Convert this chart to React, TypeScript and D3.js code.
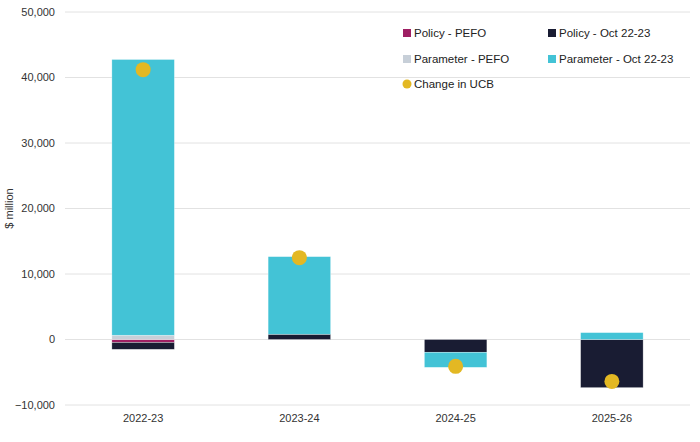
import { useEffect, useRef } from 'react'
import * as d3 from 'd3'

const years = ['2022-23', '2023-24', '2024-25', '2025-26']
// stacked components ($ million)
const policyPefo = [-450, 0, 0, 0]
const policyOct = [-1050, 800, -1950, -7350]
const parameterPefo = [650, 0, 0, 0]
const parameterOct = [42100, 11850, -2300, 1050]
const changeUcb = [41200, 12500, -4100, -6400]

const seriesNames = ['Policy - PEFO', 'Policy - Oct 22-23', 'Parameter - PEFO', 'Parameter - Oct 22-23']
const seriesColors = ['#9E1F63', '#191C33', '#C7CFD8', '#43C3D6']
const dotColor = '#E3B823'
const yTicks = [-10000, 0, 10000, 20000, 30000, 40000, 50000]

const W = 700
const H = 442

export default function App() {
  const ref = useRef<SVGSVGElement>(null)

  useEffect(() => {
    if (!ref.current) return
    const svg = d3.select(ref.current)
    svg.selectAll('*').remove()

    const margin = { top: 12, right: 10, bottom: 37, left: 65 }
    const x = d3.scaleBand().domain(years).range([margin.left, W - margin.right]).paddingInner(0.6).paddingOuter(0.3)
    const y = d3.scaleLinear().domain([-10000, 50000]).range([H - margin.bottom, margin.top])

    const font = 'Liberation Sans, Arial, sans-serif'

    // grid
    svg.append('g')
      .selectAll('line')
      .data(yTicks)
      .enter().append('line')
      .attr('x1', margin.left)
      .attr('x2', W - margin.right)
      .attr('y1', d => y(d))
      .attr('y2', d => y(d))
      .attr('stroke', '#e2e2e2')
      .attr('stroke-width', 1)

    svg.append('g')
      .selectAll('text')
      .data(yTicks)
      .enter().append('text')
      .attr('x', margin.left - 10)
      .attr('y', d => y(d))
      .attr('dy', '0.35em')
      .attr('text-anchor', 'end')
      .style('font-family', font)
      .style('font-size', '11px')
      .attr('fill', '#333')
      .text(d => d3.format(',')(d))

    svg.append('text')
      .attr('transform', `translate(13,${y(20000)}) rotate(-90)`)
      .attr('text-anchor', 'middle')
      .style('font-family', font)
      .style('font-size', '11px')
      .attr('fill', '#333')
      .text('$ million')

    // stacks: positives up from zero, negatives down from zero
    const series = [policyPefo, policyOct, parameterPefo, parameterOct]
    years.forEach((yr, i) => {
      let pos = 0
      let neg = 0
      series.forEach((s, k) => {
        const v = s[i]
        if (!v) return
        let y0: number, y1: number
        if (v > 0) { y0 = pos; y1 = pos + v; pos = y1 }
        else { y0 = neg; y1 = neg + v; neg = y1 }
        svg.append('rect')
          .attr('x', x(yr)!)
          .attr('width', x.bandwidth())
          .attr('y', y(Math.max(y0, y1)))
          .attr('height', Math.abs(y(y0) - y(y1)))
          .attr('fill', seriesColors[k])
          .attr('stroke', '#ffffff')
          .attr('stroke-opacity', 0.5)
          .attr('stroke-width', 0.6)
      })
    })

    svg.append('g')
      .selectAll('circle')
      .data(changeUcb)
      .enter().append('circle')
      .attr('cx', (_, i) => x(years[i])! + x.bandwidth() / 2)
      .attr('cy', d => y(d))
      .attr('r', 7.5)
      .attr('fill', dotColor)

    svg.append('g')
      .selectAll('text')
      .data(years)
      .enter().append('text')
      .attr('x', d => x(d)! + x.bandwidth() / 2)
      .attr('y', H - 20)
      .attr('text-anchor', 'middle')
      .style('font-family', font)
      .style('font-size', '11px')
      .attr('fill', '#333')
      .text(d => d)

    // legend
    const legendPos = [[403, 33], [548, 33], [403, 59], [548, 59]]
    seriesNames.forEach((name, k) => {
      const [lx, ly] = legendPos[k]
      svg.append('rect').attr('x', lx).attr('y', ly - 4).attr('width', 8).attr('height', 8).attr('fill', seriesColors[k])
      svg.append('text')
        .attr('x', lx + 11)
        .attr('y', ly)
        .attr('dy', '0.35em')
        .style('font-family', font)
        .style('font-size', '11.5px')
        .attr('fill', '#222')
        .text(name)
    })
    svg.append('circle').attr('cx', 407).attr('cy', 84).attr('r', 4.5).attr('fill', dotColor)
    svg.append('text')
      .attr('x', 414)
      .attr('y', 84)
      .attr('dy', '0.35em')
      .style('font-family', font)
      .style('font-size', '11.5px')
      .attr('fill', '#222')
      .text('Change in UCB')
  }, [])

  return (
    <svg ref={ref} width={W} height={H} style={{ position: 'absolute', left: 0, top: 0, background: '#fff' }} />
  )
}
